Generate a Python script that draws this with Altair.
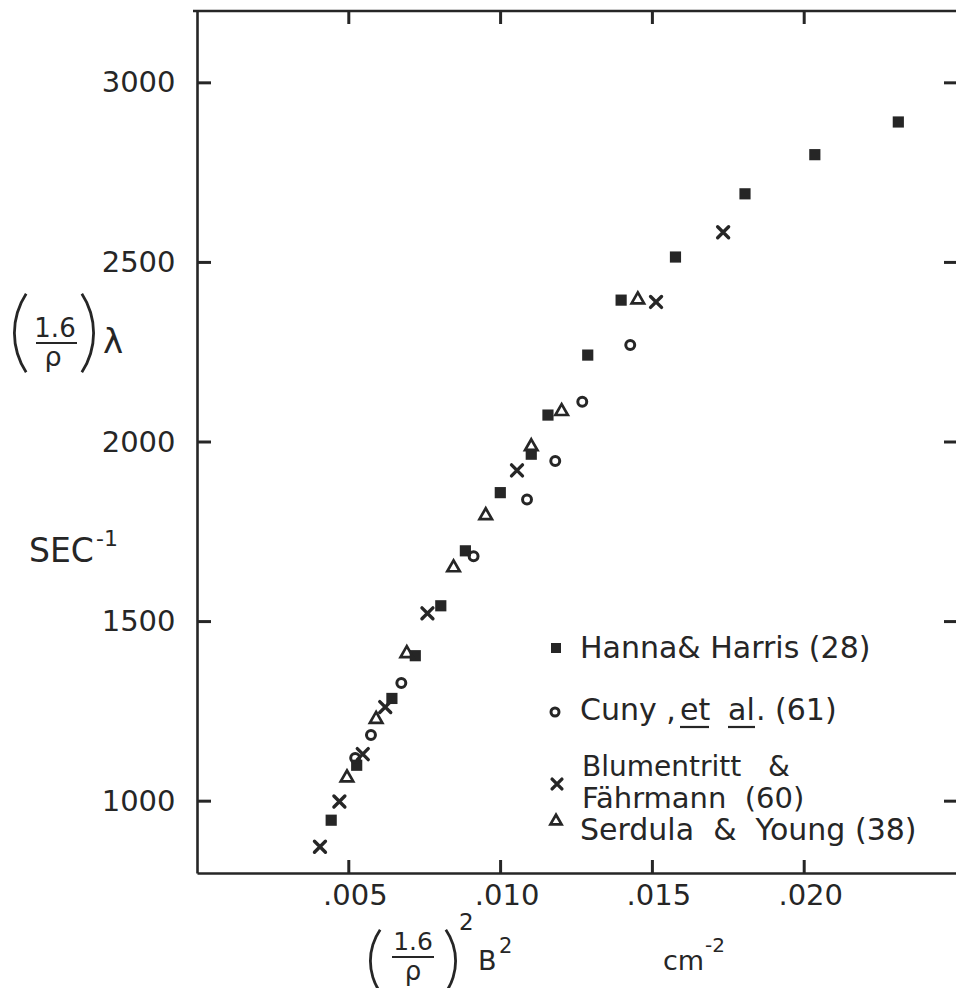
import math
import altair as alt
import pandas as pd

# ---------------- data ----------------
hanna_x = [0.02310, 0.02035, 0.01805, 0.01576, 0.01397, 0.01287, 0.01156, 0.01101,
           0.00999, 0.00884, 0.00803, 0.00719, 0.00642, 0.00526, 0.00442]
hanna_y = [2891, 2800, 2691, 2515, 2395, 2242, 2075, 1966,
           1859, 1697, 1544, 1405, 1286, 1100, 947]
cuny_x = [0.01427, 0.01269, 0.01180, 0.01087, 0.00911, 0.00673, 0.00573, 0.00521]
cuny_y = [2270, 2112, 1947, 1840, 1682, 1329, 1184, 1120]
blum_x = [0.01733, 0.01512, 0.01054, 0.00759, 0.00620, 0.00546, 0.00469, 0.00405]
blum_y = [2584, 2390, 1921, 1523, 1262, 1131, 999, 873]
serd_x = [0.01452, 0.01201, 0.01101, 0.00951, 0.00845, 0.00691, 0.00590, 0.00494]
serd_y = [2400, 2089, 1991, 1799, 1654, 1415, 1232, 1069]

x_ticks = [0.005, 0.010, 0.015, 0.020]
y_ticks = [1000, 1500, 2000, 2500, 3000]

# ---------------- styling ----------------
FONT = "DejaVu Sans"
INK = "#262626"
W, H = 759, 862
NB = "\u00a0"

xs = alt.Scale(domain=[0, 0.025], nice=False, zero=False)
ys = alt.Scale(domain=[800, 3200], nice=False, zero=False)
xaxis = alt.Axis(values=x_ticks, ticks=False, tickSize=0, domain=True, domainColor=INK,
                 domainWidth=2.6, grid=False, title=None,
                 labelExpr="substring(format(datum.value, '.3f'), 1)",
                 labelFont=FONT, labelFontSize=29, labelColor=INK, labelPadding=8,
                 labelOffset=6)
yaxis = alt.Axis(values=y_ticks, ticks=False, tickSize=0, domain=True, domainColor=INK,
                 domainWidth=2.6, grid=False, title=None, format="d",
                 labelFont=FONT, labelFontSize=29, labelColor=INK, labelPadding=22)

X = alt.X("x:Q", scale=xs, axis=xaxis)
Y = alt.Y("y:Q", scale=ys, axis=yaxis)

one = pd.DataFrame({"k": [0]})


def series(xv, yv, **mk):
    return alt.Chart(pd.DataFrame({"x": xv, "y": yv})).mark_point(**mk).encode(x=X, y=Y)


X_PATH = "M-1,-1L1,1M-1,1L1,-1"
TRI_PATH = "M0,-0.95L1,0.8L-1,0.8Z"

sq_style = dict(shape="square", filled=True, size=125, color=INK, opacity=1)
ci_style = dict(shape="circle", filled=False, size=80, color=INK, strokeWidth=3, opacity=1)
x_style = dict(shape=X_PATH, filled=False, size=120, color=INK, strokeWidth=3.4, strokeCap="round", opacity=1)
tr_style = dict(shape=TRI_PATH, filled=False, size=155, color=INK, strokeWidth=2.7, opacity=1)

pts = [
    series(hanna_x, hanna_y, **sq_style),
    series(cuny_x, cuny_y, **ci_style),
    series(blum_x, blum_y, **x_style),
    series(serd_x, serd_y, **tr_style),
]

# frame top line and inward tick marks on all four sides
ydf = pd.DataFrame({"y": y_ticks})
xdf = pd.DataFrame({"x": x_ticks})
tick_style = dict(color=INK, strokeWidth=3)
frame_top = alt.Chart(one).mark_rule(color=INK, strokeWidth=2.6).encode(
    x=alt.value(-4), x2=alt.value(W), y=alt.value(0))
ticks = [
    frame_top,
    alt.Chart(ydf).mark_rule(**tick_style).encode(y=Y, x=alt.value(0), x2=alt.value(14)),
    alt.Chart(ydf).mark_rule(**tick_style).encode(y=Y, x=alt.value(W - 12), x2=alt.value(W)),
    alt.Chart(xdf).mark_rule(**tick_style).encode(x=X, y=alt.value(H - 13), y2=alt.value(H)),
    alt.Chart(xdf).mark_rule(**tick_style).encode(x=X, y=alt.value(0), y2=alt.value(13)),
]


def txt(s, x, y, size, align="left"):
    return alt.Chart(one).mark_text(text=s, font=FONT, fontSize=size, color=INK,
                                    align=align, baseline="alphabetic").encode(
        x=alt.value(x), y=alt.value(y))


def hline(x1, x2, y, w=2.2):
    return alt.Chart(one).mark_rule(color=INK, strokeWidth=w).encode(
        x=alt.value(x1), x2=alt.value(x2), y=alt.value(y))


def paren(edge_x, cy, height, sag, left=True, thick=2.8):
    r = ((height / 2) ** 2 + sag ** 2) / (2 * sag)
    h = math.asin((height / 2) / r)
    if left:
        cx, mid = edge_x + r, 1.5 * math.pi
    else:
        cx, mid = edge_x - r, 0.5 * math.pi
    return alt.Chart(one).mark_arc(color=INK).encode(
        x=alt.value(cx), y=alt.value(cy),
        radius=alt.value(r), radius2=alt.value(r - thick),
        theta=alt.value(mid - h), theta2=alt.value(mid + h))


# plot origin in page pixels: (197, 11)
OX, OY = 197, 11

labels = [
    # y title: (1.6/rho) lambda
    paren(13 - OX, 333 - OY, 80, 12, left=True),
    paren(95 - OX, 333 - OY, 80, 12, left=False),
    txt("1.6", 55 - OX, 337 - OY, 26, align="center"),
    hline(36 - OX, 77 - OX, 343 - OY),
    txt("ρ", 53 - OX, 366 - OY, 27, align="center"),
    txt("λ", 103 - OX, 353 - OY, 34),
    # SEC^-1
    txt("SEC", 29 - OX, 562 - OY, 33),
    txt("-1", 96 - OX, 546 - OY, 22),
    # x title: (1.6/rho)^2 B^2   cm^-2
    paren(369 - OX, 961 - OY, 64, 10, left=True),
    paren(457 - OX, 961 - OY, 64, 10, left=False),
    txt("1.6", 413 - OX, 950 - OY, 25, align="center"),
    hline(392 - OX, 434 - OX, 957 - OY),
    txt("ρ", 413 - OX, 980 - OY, 26, align="center"),
    txt("2", 459 - OX, 930 - OY, 23),
    txt("B", 478 - OX, 970 - OY, 27),
    txt("2", 499 - OX, 953 - OY, 21),
    txt("cm", 663 - OX, 970 - OY, 27),
    txt("-2", 705 - OX, 952 - OY, 20),
]


def legend_marker(style, x, y):
    st = dict(style)
    st["size"] = int(st["size"] * 0.8)
    return alt.Chart(one).mark_point(**st).encode(x=alt.value(x), y=alt.value(y))


LF = 30
legend = [
    legend_marker(sq_style, 556 - OX, 648 - OY),
    txt("Hanna& Harris (28)", 580 - OX, 658 - OY, LF),
    legend_marker(ci_style, 555 - OX, 712 - OY),
    txt("Cuny ,", 580 - OX, 720 - OY, LF),
    txt("et", 680 - OX, 720 - OY, LF),
    hline(680 - OX, 709 - OX, 727 - OY),
    txt("al", 728 - OX, 720 - OY, LF),
    hline(728 - OX, 755 - OX, 727 - OY),
    txt(". (61)", 756 - OX, 720 - OY, LF),
    legend_marker(x_style, 557 - OX, 784 - OY),
    txt("Blumentritt" + NB * 3 + "&", 582 - OX, 776 - OY, 28),
    txt("Fährmann" + NB * 2 + "(60)", 582 - OX, 808 - OY, 29),
    legend_marker(tr_style, 556 - OX, 820 - OY),
    txt("Serdula" + NB * 2 + "&" + NB * 2 + "Young (38)", 580 - OX, 840 - OY, LF),
]

chart = alt.layer(*ticks, *pts, *labels, *legend).properties(
    width=W, height=H,
    autosize=alt.AutoSizeParams(type="none"),
    padding={"left": OX, "top": OY, "right": 0, "bottom": 115},
    background="white",
).configure_view(stroke=None)

chart.save("out.html", embed_options={"renderer": "svg", "actions": False})
